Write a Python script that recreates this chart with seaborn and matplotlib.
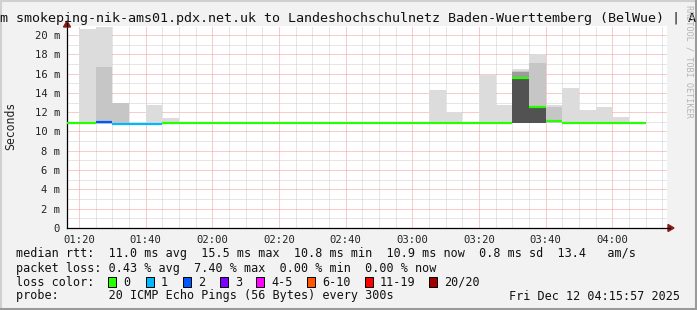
import matplotlib
matplotlib.use("Agg")
import matplotlib.pyplot as plt
import seaborn as sns
import numpy as np
from matplotlib.patches import Rectangle, Polygon
from matplotlib.lines import Line2D

# ---------------- data ----------------
bin_start = ["01:15", "01:20", "01:25", "01:30", "01:35", "01:40", "01:45", "01:50",
             "01:55", "02:00", "02:05", "02:10", "02:15", "02:20", "02:25", "02:30",
             "02:35", "02:40", "02:45", "02:50", "02:55", "03:00", "03:05", "03:10",
             "03:15", "03:20", "03:25", "03:30", "03:35", "03:40", "03:45", "03:50",
             "03:55", "04:00", "04:05"]
median_ms = [10.85, 10.85, 11.0, 10.8, 10.8, 10.8, 10.85, 10.85,
             10.85, 10.85, 10.85, 10.85, 10.85, 10.85, 10.85, 10.85,
             10.85, 10.85, 10.85, 10.85, 10.85, 10.85, 10.85, 10.85,
             10.85, 10.85, 10.85, 15.55, 12.55, 11.05, 10.85, 10.85,
             10.85, 10.85, 10.85]
loss_count = [0, 0, 2, 1, 1, 1, 0, 0,
              0, 0, 0, 0, 0, 0, 0, 0,
              0, 0, 0, 0, 0, 0, 0, 0,
              0, 0, 0, 0, 0, 0, 0, 0,
              0, 0, 0]

smoke_bins = ["01:20", "01:25", "01:30", "01:40", "01:45", "03:05", "03:10", "03:20",
              "03:25", "03:30", "03:35", "03:40", "03:45", "03:50", "03:55", "04:00"]
smoke_min = [10.8, 10.8, 10.8, 10.8, 10.8, 10.8, 10.8, 10.8,
             10.8, 10.85, 10.85, 10.9, 10.8, 10.8, 10.8, 10.8]
smoke_dark_top = [10.8, 10.8, 10.8, 10.8, 10.8, 10.8, 10.8, 10.8,
                  10.8, 15.4, 12.4, 10.9, 10.8, 10.8, 10.8, 10.8]
smoke_grey_top = [10.8, 10.8, 10.8, 10.8, 10.8, 10.8, 10.8, 10.8,
                  10.8, 16.2, 12.4, 10.9, 10.8, 10.8, 10.8, 10.8]
smoke_mid_top = [10.8, 16.7, 13.0, 10.8, 10.8, 10.8, 10.8, 10.8,
                 10.8, 16.3, 17.05, 12.55, 10.8, 10.8, 10.8, 10.8]
smoke_max = [20.6, 20.8, 13.0, 12.7, 11.35, 14.3, 12.05, 15.9,
             12.7, 16.45, 18.05, 12.7, 14.5, 12.2, 12.5, 11.45]

tick_labels_x = ["01:20", "01:40", "02:00", "02:20", "02:40", "03:00", "03:20", "03:40", "04:00"]
tick_values_y = [0, 2, 4, 6, 8, 10, 12, 14, 16, 18, 20]
tick_labels_y = ["0", "2 m", "4 m", "6 m", "8 m", "10 m", "12 m", "14 m", "16 m", "18 m", "20 m"]

loss_labels = ["0", "1", "2", "3", "4-5", "6-10", "11-19", "20/20"]
loss_colors = ["#26ff00", "#00b8ff", "#0059ff", "#7e00ff", "#ff00ff", "#ff5500", "#ff0000", "#a00000"]

title = "m smokeping-nik-ams01.pdx.net.uk to Landeshochschulnetz Baden-Wuerttemberg (BelWue) | A"
stats_lines = [
    "median rtt:  11.0 ms avg  15.5 ms max  10.8 ms min  10.9 ms now  0.8 ms sd  13.4   am/s",
    "packet loss: 0.43 % avg  7.40 % max  0.00 % min  0.00 % now",
    "loss color:",
    "probe:       20 ICMP Echo Pings (56 Bytes) every 300s",
]
date_text = "Fri Dec 12 04:15:57 2025"


def to_min(s):
    h, m = s.split(":")
    return int(h) * 60 + int(m)


def loss_color(n):
    if n <= 3:
        return loss_colors[n]
    if n <= 5:
        return loss_colors[4]
    if n <= 10:
        return loss_colors[5]
    if n <= 19:
        return loss_colors[6]
    return loss_colors[7]


# ---------------- figure ----------------
sns.set_theme(style="white")
plt.rcParams["font.family"] = ["DejaVu Sans Mono", "DejaVu Sans"]

W, H = 697, 310
fig = plt.figure(figsize=(W / 100, H / 100), dpi=100, facecolor="#f2f2f2")


def fx(px):
    return px / W


def fy(py):
    return 1 - py / H


ax_l, ax_r, ax_t, ax_b = 67, 667, 26, 228
ax = fig.add_axes([fx(ax_l), fy(ax_b), fx(ax_r) - fx(ax_l), fy(ax_t) - fy(ax_b)])
ax.set_facecolor("white")

x0 = 76.4
ax.set_xlim(x0, x0 + 180)
ax.set_ylim(0, 20.93)

# grid
ax.set_xticks([to_min(t) for t in tick_labels_x])
ax.set_xticklabels(tick_labels_x)
ax.set_xticks(np.arange(80, 257, 5), minor=True)
ax.set_yticks(tick_values_y)
ax.set_yticklabels(tick_labels_y)
ax.set_yticks(np.arange(0, 21, 1), minor=True)
ax.grid(which="minor", color="#cfcfcf", linestyle=(0, (1, 1)), linewidth=0.72, zorder=0)
ax.grid(which="major", color="#f29a9a", linestyle=(0, (1, 1)), linewidth=0.72, zorder=0)
ax.set_axisbelow(True)

# smoke
sx = [to_min(t) for t in smoke_bins]
smin = np.array(smoke_min)
sdark = np.array(smoke_dark_top)
sgrey = np.array(smoke_grey_top)
smid = np.array(smoke_mid_top)
smax = np.array(smoke_max)
ax.bar(sx, sdark - smin, bottom=smin, width=5, align="edge", color="#525252", linewidth=0, zorder=2)
ax.bar(sx, sgrey - sdark, bottom=sdark, width=5, align="edge", color="#9c9c9c", linewidth=0, zorder=2)
lo_mid = np.maximum(sgrey, sdark)
ax.bar(sx, np.maximum(smid - lo_mid, 0), bottom=lo_mid, width=5, align="edge", color="#c6c6c6",
       linewidth=0, zorder=2)
lo_top = np.maximum(smid, lo_mid)
ax.bar(sx, smax - lo_top, bottom=lo_top, width=5, align="edge", color="#dcdcdc", linewidth=0, zorder=2)

# median line coloured by loss
bx = np.array([to_min(t) for t in bin_start])
ax.hlines(median_ms, bx, bx + 5, colors=[loss_color(n) for n in loss_count],
          linewidth=1.6, zorder=4, capstyle="butt")

# axes styling
for s in ["top", "right"]:
    ax.spines[s].set_visible(False)
for s in ["left", "bottom"]:
    ax.spines[s].set_color("black")
    ax.spines[s].set_linewidth(0.9)
ax.tick_params(axis="both", which="major", labelsize=7.6, length=2, width=0.7, colors="black",
               direction="out", pad=3)
ax.tick_params(axis="x", which="major", colors="#f08080", labelcolor="black")
ax.tick_params(axis="y", which="major", colors="black")
ax.tick_params(which="minor", length=0)
for lab in ax.get_xticklabels() + ax.get_yticklabels():
    lab.set_color("#222222")

# axis extensions and arrows
fig.add_artist(Line2D([fx(ax_r), fx(670)], [fy(ax_b), fy(ax_b)], color="black", linewidth=0.9,
                      transform=fig.transFigure))
fig.add_artist(Line2D([fx(ax_l), fx(ax_l)], [fy(ax_t), fy(23)], color="black", linewidth=0.9,
                      transform=fig.transFigure))
fig.add_artist(Polygon([[fx(668), fy(ax_b - 3.5)], [fx(668), fy(ax_b + 3.5)], [fx(674), fy(ax_b)]],
                       closed=True, color="#8b1a1a", transform=fig.transFigure))
fig.add_artist(Polygon([[fx(ax_l - 3.5), fy(27)], [fx(ax_l + 3.5), fy(27)], [fx(ax_l), fy(21)]],
                       closed=True, color="#8b1a1a", transform=fig.transFigure))

# y label
fig.text(fx(11), fy(126), "Seconds", rotation=90, ha="center", va="center", fontsize=8.3,
         color="#222222")

# title
fig.text(fx(348.5), fy(18.5), title, ha="center", va="center", fontsize=9.6, color="#111111")

# watermark
fig.text(fx(689.5), fy(5), "RRDTOOL / TOBI OETIKER", rotation=270, ha="center", va="top",
         fontsize=6.1, color="#b4b4b4")

# legend / stats
line_y = [254, 268.3, 282, 296]
for txt, yy in zip(stats_lines, line_y):
    fig.text(fx(16), fy(yy), txt, ha="left", va="center", fontsize=8.5, color="#111111")
fig.text(fx(680), fy(line_y[3]), date_text, ha="right", va="center", fontsize=8.5, color="#111111")

box_x = [108.3, 145.6, 182.8, 219.9, 256.0, 307.3, 365.0, 429.3]
for bxp, lab, col in zip(box_x, loss_labels, loss_colors):
    fig.add_artist(Rectangle((fx(bxp), fy(line_y[2] + 5)), fx(8), 10 / H, facecolor=col,
                             edgecolor="black", linewidth=0.7, transform=fig.transFigure))
    fig.text(fx(bxp + 15), fy(line_y[2]), lab, ha="left", va="center", fontsize=8.5, color="#111111")

# frame
fig.add_artist(Line2D([0, 1], [fy(0.8), fy(0.8)], color="#d0d0d0", linewidth=1.5, transform=fig.transFigure))
fig.add_artist(Line2D([fx(0.8), fx(0.8)], [0, 1], color="#d0d0d0", linewidth=1.5, transform=fig.transFigure))
fig.add_artist(Line2D([0, 1], [fy(309), fy(309)], color="#9a9a9a", linewidth=2.2, transform=fig.transFigure))
fig.add_artist(Line2D([fx(696), fx(696)], [0, 1], color="#9a9a9a", linewidth=2.2, transform=fig.transFigure))

fig.savefig("out.png", dpi=100, facecolor=fig.get_facecolor())
